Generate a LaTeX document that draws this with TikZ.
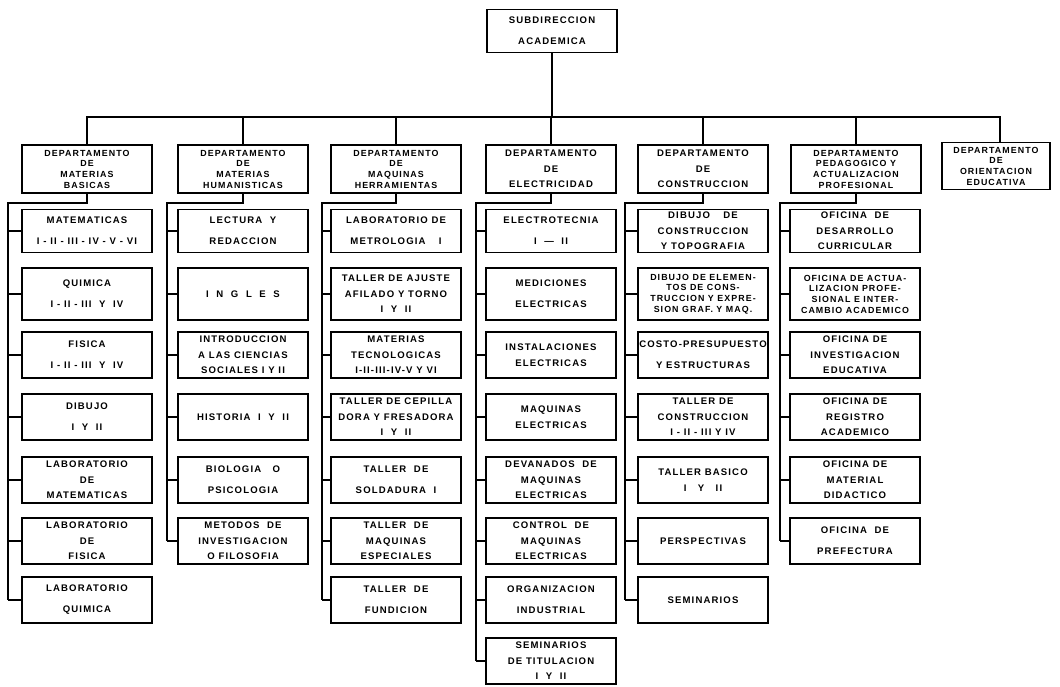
\documentclass[tikz,border=0pt]{standalone}
\usepackage{fontspec}
\newfontfamily\orgfont[LetterSpace=12]{Liberation Sans}
\usetikzlibrary{positioning}

\begin{document}
\begin{tikzpicture}[x=0.025cm, y=-0.025cm, line width=1.3pt,
	unit/.style={draw, line width=1.3pt, minimum width=3.25cm, minimum height=1.15cm,
		align=center, inner sep=1pt, font=\fontsize{6.8}{11}\selectfont\orgfont\bfseries},
	two/.style={font=\fontsize{6.8}{15}\selectfont\orgfont\bfseries},
	four/.style={font=\fontsize{6.3}{7.6}\selectfont\orgfont\bfseries},
	dept/.style={unit, minimum height=1.2cm}]
	\useasboundingbox (0,0) rectangle (1060,686);
	% direccion
	\node[unit, two, minimum height=1.075cm] (sub) at (552,31) {SUBDIRECCION\\ACADEMICA};
	% departamentos
	\node[dept, four] (d1) at (87,169) {DEPARTAMENTO\\DE\\MATERIAS\\BASICAS};
	\node[dept, four] (d2) at (243,169) {DEPARTAMENTO\\DE\\MATERIAS\\HUMANISTICAS};
	\node[dept, four] (d3) at (396,169) {DEPARTAMENTO\\DE\\MAQUINAS\\HERRAMIENTAS};
	\node[dept] (d4) at (551,169) {DEPARTAMENTO\\DE\\ELECTRICIDAD};
	\node[dept] (d5) at (703,169) {DEPARTAMENTO\\DE\\CONSTRUCCION};
	\node[dept, four] (d6) at (856,169) {DEPARTAMENTO\\PEDAGOGICO Y\\ACTUALIZACION\\PROFESIONAL};
	\node[dept, four, minimum width=2.7cm, minimum height=1.175cm] (d7) at (996,166) {DEPARTAMENTO\\DE\\ORIENTACION\\EDUCATIVA};
	% materias basicas
	\node[unit, two, minimum height=1.075cm] (c11) at (87,231) {MATEMATICAS\\I - II - III - IV - V - VI};
	\node[unit, two, minimum height=1.3cm] (c12) at (87,294) {QUIMICA\\I - II - III \ Y \ IV};
	\node[unit, two] (c13) at (87,355) {FISICA\\I - II - III \ Y \ IV};
	\node[unit, two] (c14) at (87,417) {DIBUJO\\I \ Y \ II};
	\node[unit] (c15) at (87,480) {LABORATORIO\\DE\\MATEMATICAS};
	\node[unit] (c16) at (87,541) {LABORATORIO\\DE\\FISICA};
	\node[unit, two] (c17) at (87,600) {LABORATORIO\\QUIMICA};
	% materias humanisticas
	\node[unit, two, minimum height=1.075cm] (c21) at (243,231) {LECTURA \ Y\\REDACCION};
	\node[unit, minimum height=1.3cm] (c22) at (243,294) {I \ N \ G \ L \ E \ S};
	\node[unit] (c23) at (243,355) {INTRODUCCION\\A LAS CIENCIAS\\SOCIALES I Y II};
	\node[unit] (c24) at (243,417) {HISTORIA \ I \ Y \ II};
	\node[unit, two] (c25) at (243,480) {BIOLOGIA \ \ O\\PSICOLOGIA};
	\node[unit] (c26) at (243,541) {METODOS \ DE\\INVESTIGACION\\O FILOSOFIA};
	% maquinas herramientas
	\node[unit, two, minimum height=1.075cm] (c31) at (396,231) {LABORATORIO DE\\METROLOGIA \quad I};
	\node[unit, minimum height=1.3cm] (c32) at (396,294) {TALLER DE AJUSTE\\AFILADO Y TORNO\\I \ Y \ II};
	\node[unit] (c33) at (396,355) {MATERIAS\\TECNOLOGICAS\\I-II-III-IV-V Y VI};
	\node[unit] (c34) at (396,417) {TALLER DE CEPILLA\\DORA Y FRESADORA\\I \ Y \ II};
	\node[unit, two] (c35) at (396,480) {TALLER \ DE\\SOLDADURA \ I};
	\node[unit] (c36) at (396,541) {TALLER \ DE\\MAQUINAS\\ESPECIALES};
	\node[unit, two] (c37) at (396,600) {TALLER \ DE\\FUNDICION};
	% electricidad
	\node[unit, two, minimum height=1.075cm] (c41) at (551,231) {ELECTROTECNIA\\I \ — \ II};
	\node[unit, two, minimum height=1.3cm] (c42) at (551,294) {MEDICIONES\\ELECTRICAS};
	\node[unit] (c43) at (551,355) {INSTALACIONES\\ELECTRICAS};
	\node[unit] (c44) at (551,417) {MAQUINAS\\ELECTRICAS};
	\node[unit] (c45) at (551,480) {DEVANADOS \ DE\\MAQUINAS\\ELECTRICAS};
	\node[unit] (c46) at (551,541) {CONTROL \ DE\\MAQUINAS\\ELECTRICAS};
	\node[unit, two] (c47) at (551,600) {ORGANIZACION\\INDUSTRIAL};
	\node[unit] (c48) at (551,661) {SEMINARIOS\\DE TITULACION\\I \ Y \ II};
	% construccion
	\node[unit, minimum height=1.075cm] (c51) at (703,231) {DIBUJO \quad DE\\CONSTRUCCION\\Y TOPOGRAFIA};
	\node[unit, four, minimum height=1.3cm] (c52) at (703,294) {DIBUJO DE ELEMEN-\\TOS DE CONS-\\TRUCCION Y EXPRE-\\SION GRAF. Y MAQ.};
	\node[unit, two] (c53) at (703,355) {COSTO-PRESUPUESTO\\Y ESTRUCTURAS};
	\node[unit] (c54) at (703,417) {TALLER DE\\CONSTRUCCION\\I - II - III Y IV};
	\node[unit] (c55) at (703,480) {TALLER BASICO\\I \ \ Y \ \ II};
	\node[unit] (c56) at (703,541) {PERSPECTIVAS};
	\node[unit] (c57) at (703,600) {SEMINARIOS};
	% pedagogico
	\node[unit, minimum height=1.075cm] (c61) at (855,231) {OFICINA \ DE\\DESARROLLO\\CURRICULAR};
	\node[unit, four, minimum height=1.3cm] (c62) at (855,294) {OFICINA DE ACTUA-\\LIZACION PROFE-\\SIONAL E INTER-\\CAMBIO ACADEMICO};
	\node[unit] (c63) at (855,355) {OFICINA DE\\INVESTIGACION\\EDUCATIVA};
	\node[unit] (c64) at (855,417) {OFICINA DE\\REGISTRO\\ACADEMICO};
	\node[unit] (c65) at (855,480) {OFICINA DE\\MATERIAL\\DIDACTICO};
	\node[unit, two] (c66) at (855,541) {OFICINA \ DE\\PREFECTURA};
	% lineas principales
	\coordinate (bus) at (552,117);
	\draw (sub) -- (bus);
	\draw (d1.north) -- (d1.north |- bus) -- (1000,117) coordinate (bend) -- (bend |- d7.north);
	\foreach \d in {2,...,6}
		\draw (d\d.north) -- (d\d.north |- bus);
	% troncos
	\coordinate (t1) at (8,203);
	\coordinate (t2) at (167,203);
	\coordinate (t3) at (322,203);
	\coordinate (t4) at (476,203);
	\coordinate (t5) at (625,203);
	\coordinate (t6) at (780,203);
	\draw (d1.south) |- (t1) -- (t1 |- c17.west);
	\draw (d2.south) |- (t2) -- (t2 |- c26.west);
	\draw (d3.south) |- (t3) -- (t3 |- c37.west);
	\draw (d4.south) |- (t4) -- (t4 |- c48.west);
	\draw (d5.south) |- (t5) -- (t5 |- c57.west);
	\draw (d6.south) |- (t6) -- (t6 |- c66.west);
	\foreach \n in {1,...,7} {
		\draw (t1 |- c1\n.west) -- (c1\n.west);
		\draw (t3 |- c3\n.west) -- (c3\n.west);
		\draw (t5 |- c5\n.west) -- (c5\n.west);
	}
	\foreach \n in {1,...,6} {
		\draw (t2 |- c2\n.west) -- (c2\n.west);
		\draw (t6 |- c6\n.west) -- (c6\n.west);
	}
	\foreach \n in {1,...,8}
		\draw (t4 |- c4\n.west) -- (c4\n.west);
\end{tikzpicture}
\end{document}
